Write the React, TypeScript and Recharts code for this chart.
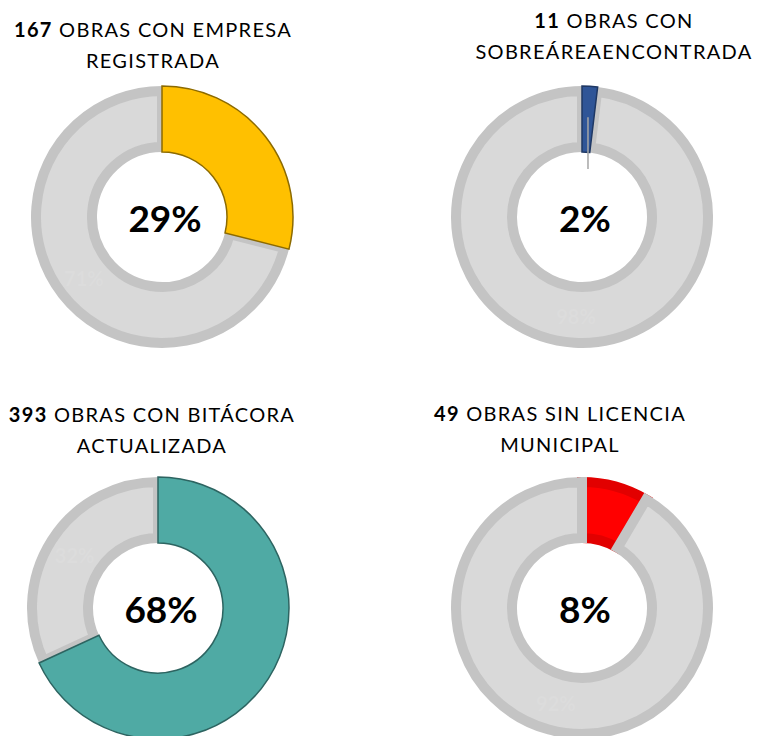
import React from "react";
import { PieChart, Pie, Cell } from "recharts";

// ---- data ----
const titleCounts = ["167", "11", "393", "49"];
const titleLine1 = [" OBRAS CON EMPRESA", " OBRAS CON", " OBRAS CON BITÁCORA", " OBRAS SIN LICENCIA"];
const titleLine2 = ["REGISTRADA", "SOBREÁREAENCONTRADA", "ACTUALIZADA", "MUNICIPAL"];
const countValues = [167, 11, 393, 49];
const restValues = [410, 566, 184, 528];
const pctLabels = ["29%", "2%", "68%", "8%"];
const restLabels = ["71%", "98%", "32%", "92%"];

// ---- styles / layout ----
const sliceColors = ["#FFC000", "#2F5597", "#4FAAA4", "#FF0000"];
const sliceStrokes = ["#8C6A00", "#1F3864", "#2D6461", "#E20000"];
const bandStyle = [false, false, false, true];
const centers = [
  { cx: 162, cy: 217 },
  { cx: 582, cy: 217 },
  { cx: 158, cy: 608 },
  { cx: 582, cy: 608 },
];
const titlePos = [
  { x: 153, top: 14 },
  { x: 614, top: 5 },
  { x: 152, top: 399 },
  { x: 560, top: 398 },
];
const leaderLine = [false, true, false, false];

const FONT = "Lato, 'Open Sans', sans-serif";
const GRAY = "#D9D9D9";
const GRAY_STROKE = "#C4C4C4";
const RAD = Math.PI / 180;

function makeData(i: number) {
  return [
    { name: "obras", value: countValues[i] },
    { name: "resto", value: restValues[i] },
  ];
}

export default function App() {
  return (
    <div style={{ position: "absolute", left: 0, top: 0, width: 758, height: 736, background: "#fff" }}>
      <PieChart width={758} height={736} margin={{ top: 0, right: 0, bottom: 0, left: 0 }}>
        {centers.map((c, i) => (
          <Pie
            key={"band" + i}
            data={makeData(i)}
            dataKey="value"
            cx={c.cx}
            cy={c.cy}
            innerRadius={70}
            outerRadius={126}
            startAngle={90}
            endAngle={-270}
            isAnimationActive={false}
            labelLine={false}
            label={(p: any) => {
              if (p.index !== 1) return null;
              const r = 99;
              const x = p.cx + r * Math.cos(-p.midAngle * RAD);
              const y = p.cy + r * Math.sin(-p.midAngle * RAD);
              return (
                <text
                  x={x}
                  y={y}
                  textAnchor="middle"
                  dominantBaseline="central"
                  fill="#DCDCDC"
                  style={{ fontFamily: FONT, fontWeight: 700, fontSize: 20 }}
                >
                  {restLabels[i]}
                </text>
              );
            }}
          >
            <Cell
              fill={bandStyle[i] ? sliceColors[i] : "none"}
              stroke={bandStyle[i] ? sliceStrokes[i] : "none"}
              strokeWidth={10}
            />
            <Cell fill={GRAY} stroke={GRAY_STROKE} strokeWidth={10} />
          </Pie>
        ))}
        {centers.map((c, i) => (
          <Pie
            key={"thin" + i}
            data={makeData(i)}
            dataKey="value"
            cx={c.cx}
            cy={c.cy}
            innerRadius={65}
            outerRadius={131}
            startAngle={90}
            endAngle={-270}
            isAnimationActive={false}
            labelLine={false}
            label={(p: any) => {
              if (p.index !== 0) return null;
              const r = 100;
              const x = p.cx + r * Math.cos(-p.midAngle * RAD);
              const y = p.cy + r * Math.sin(-p.midAngle * RAD);
              return (
                <g>
                  {leaderLine[i] ? (
                    <line x1={x} y1={y} x2={x} y2={p.cy - 48} stroke="#A6A6A6" strokeWidth={1.5} />
                  ) : null}
                  <text
                    x={p.cx + 3}
                    y={p.cy}
                    textAnchor="middle"
                    dominantBaseline="central"
                    fill="#000"
                    style={{ fontFamily: FONT, fontWeight: 700, fontSize: 37 }}
                  >
                    {pctLabels[i]}
                  </text>
                </g>
              );
            }}
          >
            <Cell
              fill={bandStyle[i] ? "none" : sliceColors[i]}
              stroke={bandStyle[i] ? "none" : sliceStrokes[i]}
              strokeWidth={1.5}
            />
            <Cell fill="none" stroke="none" />
          </Pie>
        ))}
      </PieChart>
      {titlePos.map((t, i) => (
        <div
          key={"t" + i}
          style={{
            position: "absolute",
            left: t.x - 200,
            top: t.top,
            width: 400,
            textAlign: "center",
            fontFamily: FONT,
            fontSize: 20,
            lineHeight: "31px",
            letterSpacing: 1.3,
            color: "#000",
          }}
        >
          <div>
            <b>{titleCounts[i]}</b>
            {titleLine1[i]}
          </div>
          <div>{titleLine2[i]}</div>
        </div>
      ))}
    </div>
  );
}
